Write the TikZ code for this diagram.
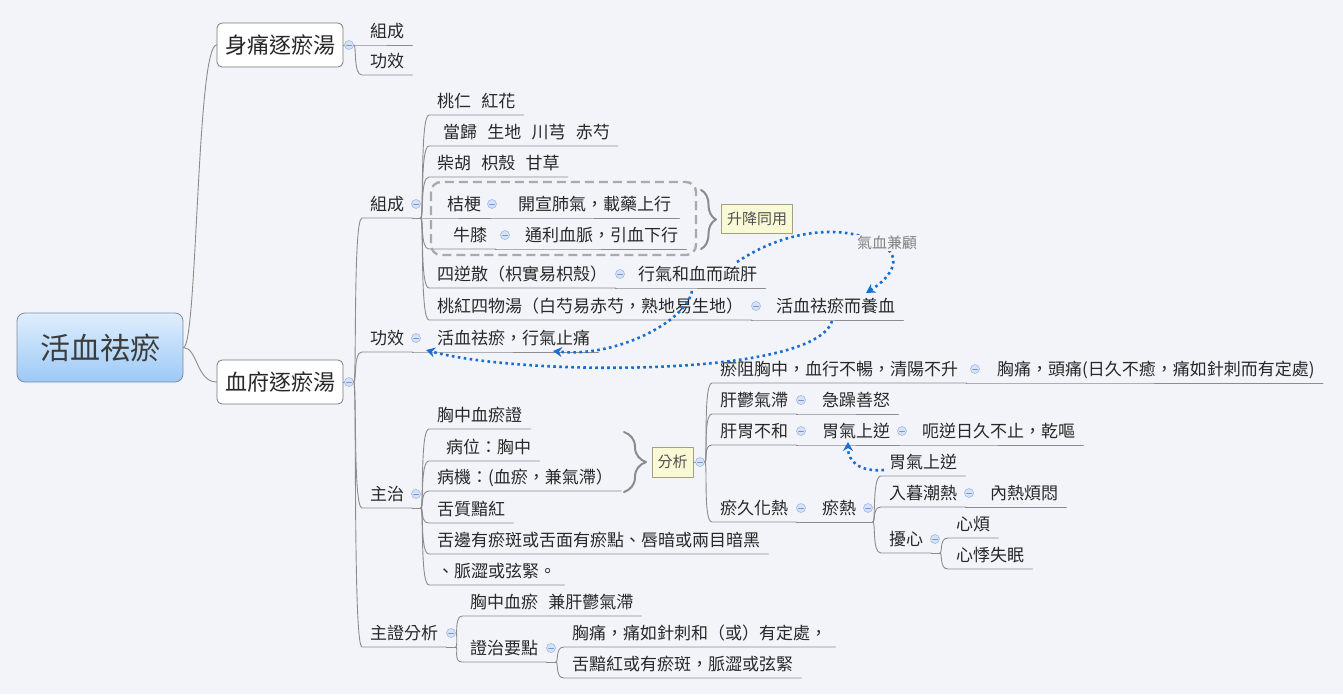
\documentclass[tikz,border=0pt]{standalone}
\usepackage{fontspec}
\setmainfont{Noto Sans CJK TC}
\usetikzlibrary{arrows.meta,positioning,decorations.pathreplacing}

\definecolor{bg}{RGB}{243,244,249}
\definecolor{lin}{RGB}{140,140,140}
\definecolor{txt}{RGB}{40,40,40}
\definecolor{boxbd}{RGB}{120,120,120}
\definecolor{roottop}{RGB}{224,238,253}
\definecolor{rootbot}{RGB}{156,201,246}
\definecolor{rootbd}{RGB}{125,140,160}
\definecolor{roottxt}{RGB}{60,60,60}
\definecolor{foldbg}{RGB}{214,226,246}
\definecolor{foldbd}{RGB}{160,185,230}
\definecolor{foldmark}{RGB}{120,150,210}
\definecolor{notebg}{RGB}{250,249,214}
\definecolor{notebd}{RGB}{160,160,130}
\definecolor{notetxt}{RGB}{80,80,80}
\definecolor{relblue}{RGB}{25,110,210}
\definecolor{boundgray}{RGB}{170,170,170}
\definecolor{labgray}{RGB}{130,130,130}

\newcommand{\kong}{\hspace{0.6em}}

\begin{document}
\begin{tikzpicture}[x=1pt, y=-1pt, >=Stealth, line cap=round, line join=round,
  rootbox/.style={draw=rootbd, line width=0.8pt, rounded corners=8pt, top color=roottop, bottom color=rootbot, minimum width=166pt, minimum height=69pt, font=\fontsize{30}{36}\selectfont, text=roottxt},
  mainbox/.style={draw=boxbd, line width=0.8pt, fill=white, rounded corners=5pt, minimum width=126pt, minimum height=44pt, font=\fontsize{22}{26}\selectfont, text=txt},
  topic/.style={anchor=south west, inner xsep=8pt, inner ysep=0pt, text height=14pt, text depth=7.5pt, font=\fontsize{17}{20}\selectfont, text=txt},
  note/.style={draw=notebd, line width=0.8pt, fill=notebg, inner sep=0pt, font=\fontsize{15}{18}\selectfont, text=notetxt},
  fold/.style={circle, draw=foldbd, fill=foldbg, line width=0.6pt, minimum size=9pt, inner sep=0pt,
    path picture={\draw[foldmark, line width=0.9pt] ([xshift=-2.3pt]path picture bounding box.center) -- ([xshift=2.3pt]path picture bounding box.center);}},
  uline/.style={draw=lin, line width=0.9pt},
  branch/.style={uline, to path={.. controls +(3,0) and +(-9,0) .. (\tikztotarget.south west) -- (\tikztotarget.south east)}},
  trunk/.style={uline, to path={.. controls +(14,0) and +(-20,0) .. (\tikztotarget.west)}},
  rel/.style={draw=relblue, line width=2.6pt, line cap=butt, dash pattern=on 2.6pt off 3.4pt, -{Stealth[length=9pt,width=10pt]}},
  bound/.style={draw=boundgray, line width=2.4pt, line cap=butt, dash pattern=on 9pt off 5pt, rounded corners=10pt},
  curly/.style={draw=lin, line width=2pt, decorate, decoration={brace, amplitude=#1}},
  qlabel/.style={fill=bg, inner sep=1pt, font=\fontsize{15}{18}\selectfont, text=labgray}]

\fill[bg] (0,0) rectangle (1343,694);
\useasboundingbox (0,0) rectangle (1343,694);

% main boxes
\node[rootbox] (root) at (100,347.5) {活血祛瘀};
\node[mainbox] (shentong) at (280,45) {身痛逐瘀湯};
\node[mainbox] (xuefu) at (280,382) {血府逐瘀湯};

% first level topics
\node[topic] (stZucheng) at (362,45) {組成};
\node[topic] (stGongxiao) at (362,75) {功效};
\node[topic] (xfZucheng) at (362,218) {組成};
\node[topic] (xfGongxiao) at (362,352) {功效};
\node[topic] (xfZhuzhi) at (362,508) {主治};
\node[topic] (zhengfen) at (362,647) {主證分析};

% 組成
\node[topic] (taohong) at (429,115) {桃仁\kong 紅花};
\node[topic] (danggui) at (429,146) {\hspace*{6pt}當歸\kong 生地\kong 川芎\kong 赤芍};
\node[topic] (chaihu) at (429,177) {柴胡\kong 枳殼\kong 甘草};
\node[topic] (jiegeng) at (429,218) {\hspace*{10pt}桔梗};
\node[topic] (kaixuan) at (510,218) {開宣肺氣，載藥上行};
\node[topic] (niuxi) at (429,249) {\hspace*{16pt}牛膝};
\node[topic] (tongli) at (517,249) {通利血脈，引血下行};
\node[topic] (sini) at (429,288) {四逆散（枳實易枳殼）};
\node[topic] (xingqi) at (630,288) {行氣和血而疏肝};
\node[topic] (thsw) at (429,320) {桃紅四物湯（白芍易赤芍，熟地易生地）};
\node[topic] (yangxue) at (768,320) {活血祛瘀而養血};
\node[note, minimum width=71pt, minimum height=29pt] (shengjiang) at (757,219) {升降同用};

% 功效
\node[topic] (huoxue) at (429,352) {活血祛瘀，行氣止痛};

% 主治
\node[topic] (xiongzhong) at (429,429) {胸中血瘀證};
\node[topic] (bingwei) at (429,461) {\hspace*{9pt}病位：胸中};
\node[topic] (bingji) at (429,491) {病機：(血瘀，兼氣滯）};
\node[topic] (shezhi) at (429,523) {舌質黯紅};
\node[topic] (shebian) at (429,554) {舌邊有瘀斑或舌面有瘀點、唇暗或兩目暗黑};
\node[topic] (maise) at (429,585) {、脈澀或弦緊。};
\node[note, minimum width=41pt, minimum height=30pt] (fenxi) at (672.5,462) {分析};

% 分析
\node[topic] (yuzu) at (712,383) {瘀阻胸中，血行不暢，清陽不升};
\node[topic] (toutong) at (989,383) {胸痛，頭痛(日久不癒，痛如針刺而有定處)};
\node[topic] (ganyu) at (712,414) {肝鬱氣滯};
\node[topic] (jizao) at (814,414) {急躁善怒};
\node[topic] (ganwei) at (712,445) {肝胃不和};
\node[topic] (weiqi) at (814,445) {胃氣上逆};
\node[topic] (eni) at (914,445) {呃逆日久不止，乾嘔};
\node[topic] (yujiu) at (712,522) {瘀久化熱};
\node[topic] (yure) at (814,522) {瘀熱};
\node[topic] (weiqib) at (881,476) {胃氣上逆};
\node[topic] (rumu) at (881,507) {入暮潮熱};
\node[topic] (neire) at (982,507) {內熱煩悶};
\node[topic] (raoxin) at (881,553) {擾心};
\node[topic] (xinfan) at (948,538) {心煩};
\node[topic] (xinji) at (948,569) {心悸失眠};

% 主證分析
\node[topic] (xiongyu) at (462,616) {胸中血瘀\kong 兼肝鬱氣滯};
\node[topic] (zhengzhi) at (462,662) {證治要點};
\node[topic] (tongru) at (564,647) {胸痛，痛如針刺和（或）有定處，};
\node[topic] (shean) at (564,678) {舌黯紅或有瘀斑，脈澀或弦緊};

% fold marks
\node[fold] (fShentong) at (349,45) {};
\node[fold] (fXuefu) at (349,382) {};
\node[fold] (fZucheng) at (416,204) {};
\node[fold] (fGongxiao) at (416,338) {};
\node[fold] (fZhuzhi) at (416,494) {};
\node[fold] (fZhengfen) at (451,633) {};
\node[fold] (fJiegeng) at (492,204) {};
\node[fold] (fNiuxi) at (505,235) {};
\node[fold] (fSini) at (620,274) {};
\node[fold] (fThsw) at (756,306) {};
\node[fold] (fFenxi) at (700,462) {};
\node[fold] (fYuzu) at (975,369) {};
\node[fold] (fGanyu) at (801,400) {};
\node[fold] (fGanwei) at (801,431) {};
\node[fold] (fWeiqi) at (902,431) {};
\node[fold] (fYujiu) at (801,508) {};
\node[fold] (fYure) at (868,508) {};
\node[fold] (fRumu) at (969,493) {};
\node[fold] (fRaoxin) at (935,539) {};
\node[fold] (fZhengzhi) at (551,648) {};

% branches
\draw[trunk] (root.east) to (shentong);
\draw[trunk] (root.east) to (xuefu);
\draw[uline] (shentong.east) -- (fShentong);
\draw[uline] (xuefu.east) -- (fXuefu);
\draw[branch] (fShentong.east) to (stZucheng);
\draw[branch] (fShentong.east) to (stGongxiao);
\draw[branch] (fXuefu.east) to (xfZucheng);
\draw[branch] (fXuefu.east) to (xfGongxiao);
\draw[branch] (fXuefu.east) to (xfZhuzhi);
\draw[branch] (fXuefu.east) to (zhengfen);

\draw[uline] (xfZucheng.south east) -- (fZucheng.east |- xfZucheng.south) coordinate (pZucheng);
\draw[branch] (pZucheng) to (taohong);
\draw[branch] (pZucheng) to (danggui);
\draw[branch] (pZucheng) to (chaihu);
\draw[branch] (pZucheng) to (jiegeng);
\draw[branch] (pZucheng) to (niuxi);
\draw[branch] (pZucheng) to (sini);
\draw[branch] (pZucheng) to (thsw);
\draw[branch] (jiegeng.south east) to (kaixuan);
\draw[branch] (niuxi.south east) to (tongli);
\draw[branch] (sini.south east) to (xingqi);
\draw[branch] (thsw.south east) to (yangxue);
\draw[bound] (431,182) rectangle (696,255);
\draw[curly=15pt] (701,190) -- (701,249);

\draw[branch] (xfGongxiao.south east) to (huoxue);

\draw[uline] (xfZhuzhi.south east) -- (fZhuzhi.east |- xfZhuzhi.south) coordinate (pZhuzhi);
\draw[branch] (pZhuzhi) to (xiongzhong);
\draw[branch] (pZhuzhi) to (bingwei);
\draw[branch] (pZhuzhi) to (bingji);
\draw[branch] (pZhuzhi) to (shezhi);
\draw[branch] (pZhuzhi) to (shebian);
\draw[branch] (pZhuzhi) to (maise);
\draw[curly=22pt] (624,432) -- (624,492);

\draw[uline] (fenxi.east) -- (fFenxi);
\draw[branch] (fFenxi.east) to (yuzu);
\draw[branch] (fFenxi.east) to (ganyu);
\draw[branch] (fFenxi.east) to (ganwei);
\draw[branch] (fFenxi.east) to (yujiu);
\draw[branch] (yuzu.south east) to (toutong);
\draw[branch] (ganyu.south east) to (jizao);
\draw[branch] (ganwei.south east) to (weiqi);
\draw[branch] (weiqi.south east) to (eni);
\draw[branch] (yujiu.south east) to (yure);
\draw[uline] (yure.south east) -- (fYure.east |- yure.south) coordinate (pYure);
\draw[branch] (pYure) to (weiqib);
\draw[branch] (pYure) to (rumu);
\draw[branch] (pYure) to (raoxin);
\draw[branch] (rumu.south east) to (neire);
\draw[uline] (raoxin.south east) -- (fRaoxin.east |- raoxin.south) coordinate (pRaoxin);
\draw[branch] (pRaoxin) to (xinfan);
\draw[branch] (pRaoxin) to (xinji);

\draw[uline] (zhengfen.south east) -- (fZhengfen.east |- zhengfen.south) coordinate (pZhengfen);
\draw[branch] (pZhengfen) to (xiongyu);
\draw[branch] (pZhengfen) to (zhengzhi);
\draw[uline] (zhengzhi.south east) -- (fZhengzhi.east |- zhengzhi.south) coordinate (pZhengzhi);
\draw[branch] (pZhengzhi) to (tongru);
\draw[branch] (pZhengzhi) to (shean);

% relationships
\draw[rel] ([shift={(107,-26)}]xingqi.south west) .. controls (785,230) and (840,224) .. (877,242) .. controls (905,255) and (893,276) .. ([shift={(98,-27)}]yangxue.south west);
\node[qlabel] (qixue) at (887,243) {氣血兼顧};
\draw[rel] ([shift={(62,3)}]xingqi.south west) .. controls (686,322) and (615,358) .. ([shift={(124,-1)}]huoxue.south west);
\draw[rel] ([shift={(64,1)}]yangxue.south west) .. controls (815,378) and (520,376) .. ([shift={(-3,-2)}]huoxue.south west);
\draw[rel] ([shift={(3,-6)}]weiqib.south west) .. controls (860,472) and (848,462) .. ([shift={(34,-3)}]weiqi.south west);

\end{tikzpicture}
\end{document}
